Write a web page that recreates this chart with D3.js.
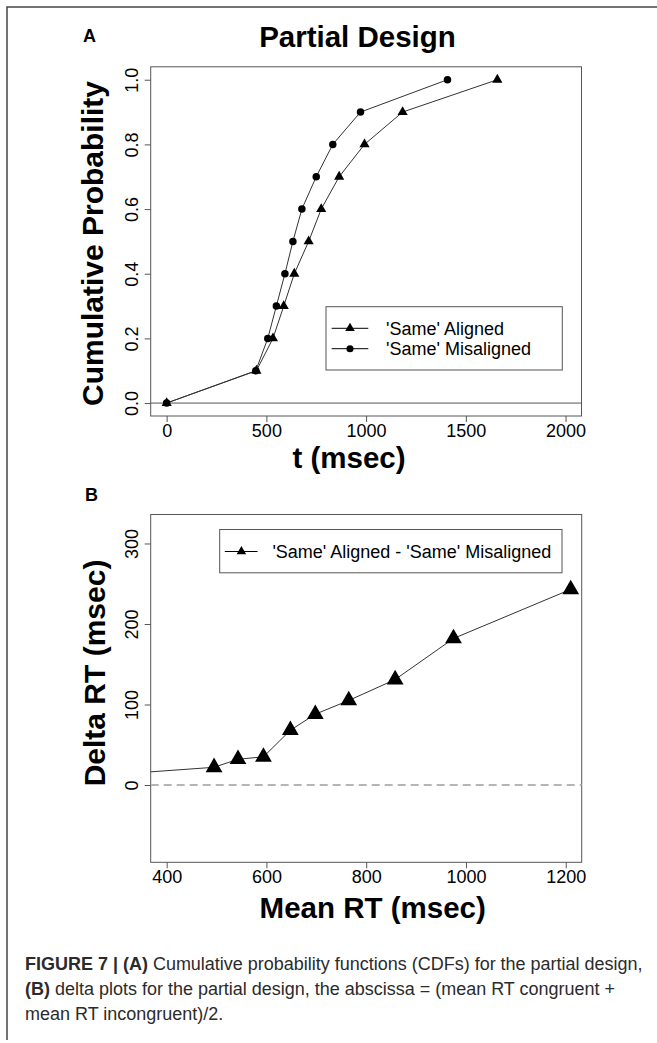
<!DOCTYPE html>
<html>
<head>
<meta charset="utf-8">
<script src="https://cdn.jsdelivr.net/npm/d3@7"></script>
<style>
  body { margin: 0; background: #fff; }
  svg { display: block; font-family: "Liberation Sans", Arial, sans-serif; }
</style>
</head>
<body>
<svg width="657" height="1043"></svg>
<script>
// ---- data ----
var cdfProb = [0, 0.1, 0.2, 0.3, 0.4, 0.5, 0.6, 0.7, 0.8, 0.9, 1.0];
var alignedRT = [0, 450, 533, 587, 640, 712, 775, 865, 992, 1183, 1658];
var misalignedRT = [0, 447, 507, 550, 593, 633, 678, 750, 833, 972, 1408];

var deltaMean = [0, 495, 543, 594, 648, 698, 765, 858, 975, 1210];
var deltaRT = [0, 22, 32, 35, 68, 88, 105, 131, 182, 243];

var aTicksX = [0, 500, 1000, 1500, 2000];
var aTicksY = [0, 0.2, 0.4, 0.6, 0.8, 1.0];
var bTicksX = [400, 600, 800, 1000, 1200];
var bTicksY = [0, 100, 200, 300];

var seriesA = [
  {name: "'Same' Aligned", shape: "triangle", values: alignedRT},
  {name: "'Same' Misaligned", shape: "circle", values: misalignedRT}
];
var seriesB = {name: "'Same' Aligned - 'Same' Misaligned", x: deltaMean, y: deltaRT};

var svg = d3.select("svg");
var boxColor = "#555", lineColor = "#333";

// outer figure frame (top and left edges visible)
svg.append("path")
   .attr("d", "M7,1040V7H657")
   .attr("fill", "none")
   .attr("stroke", "#444")
   .attr("stroke-width", 1.5);

// scales (R style: limits padded by 4%)
var aX = d3.scaleLinear().domain([-80, 2080]).range([150.7, 581.5]);
var aY = d3.scaleLinear().domain([-0.04, 1.04]).range([416, 66.8]);
var bX = d3.scaleLinear().domain([368, 1232]).range([150.7, 581.7]);
var bY = d3.scaleLinear().domain([-96, 336]).range([862.3, 514.5]);

function marker(shape, size) {
  var t = shape === "circle" ? d3.symbolCircle : d3.symbolTriangle;
  return d3.symbol().type(t).size(size)();
}

function drawAxes(x, y, tx, ty, fmtY) {
  var g = svg.append("g");
  var x0 = x.range()[0], y0 = y.range()[0];

  var ax = g.append("g")
    .attr("transform", "translate(0," + y0 + ")")
    .call(d3.axisBottom(x).tickValues(tx).tickSize(6).tickSizeOuter(0).tickFormat(d3.format("d")));
  ax.select(".domain").remove();
  ax.selectAll("line").attr("stroke", boxColor);
  ax.selectAll("text")
    .attr("y", 21).attr("dy", 0)
    .attr("fill", "#000")
    .style("font-size", "18px");

  var ay = g.append("g")
    .attr("transform", "translate(" + x0 + ",0)")
    .call(d3.axisLeft(y).tickValues(ty).tickSize(6).tickSizeOuter(0).tickFormat(fmtY));
  ay.select(".domain").remove();
  ay.selectAll("line").attr("stroke", boxColor);
  ay.selectAll("text")
    .attr("transform", "rotate(-90)")
    .attr("x", 0).attr("y", -13).attr("dy", 0)
    .attr("text-anchor", "middle")
    .attr("fill", "#000")
    .style("font-size", "18px");

  // plot box
  g.append("rect")
    .attr("x", x0).attr("y", y.range()[1])
    .attr("width", x.range()[1] - x0)
    .attr("height", y0 - y.range()[1])
    .attr("fill", "none")
    .attr("stroke", boxColor)
    .attr("stroke-width", 1);
}

// =================== Panel A ===================
svg.append("text").attr("x", 83).attr("y", 42)
   .style("font-size", "18px").style("font-weight", "bold").text("A");
svg.append("text").attr("x", 357.5).attr("y", 47).attr("text-anchor", "middle")
   .style("font-size", "29.5px").style("font-weight", "bold").text("Partial Design");

drawAxes(aX, aY, aTicksX, aTicksY, d3.format(".1f"));

// abline h = 0
svg.append("line")
   .attr("x1", aX.range()[0]).attr("x2", aX.range()[1])
   .attr("y1", aY(0)).attr("y2", aY(0))
   .attr("stroke", boxColor).attr("stroke-width", 1);

var lineA = d3.line()
  .x(function(d) { return aX(d[0]); })
  .y(function(d) { return aY(d[1]); });

seriesA.forEach(function(s) {
  var pts = s.values.map(function(v, i) { return [v, cdfProb[i]]; });
  svg.append("path")
     .attr("d", lineA(pts))
     .attr("fill", "none")
     .attr("stroke", lineColor)
     .attr("stroke-width", 1);
  svg.selectAll(null)
     .data(pts)
     .enter().append("path")
     .attr("transform", function(d) { return "translate(" + aX(d[0]) + "," + aY(d[1]) + ")"; })
     .attr("d", marker(s.shape, s.shape === "circle" ? 44 : 45))
     .attr("fill", "#000");
});

// legend A
var legA = svg.append("g");
legA.append("rect")
    .attr("x", 326).attr("y", 306.7).attr("width", 236.3).attr("height", 63.3)
    .attr("fill", "#fff").attr("stroke", boxColor);
seriesA.forEach(function(s, i) {
  var cy = 328.3 + i * 20.4;
  legA.append("line").attr("x1", 331.7).attr("x2", 368.3).attr("y1", cy).attr("y2", cy)
      .attr("stroke", "#000").attr("stroke-width", 1);
  legA.append("path").attr("transform", "translate(350," + cy + ")")
      .attr("d", marker(s.shape, 40)).attr("fill", "#000");
  legA.append("text").attr("x", 386).attr("y", cy).attr("dy", "0.35em")
      .style("font-size", "18px").text(s.name);
});

svg.append("text")
   .attr("transform", "translate(103,243.5) rotate(-90)")
   .attr("text-anchor", "middle")
   .style("font-size", "30px").style("font-weight", "bold")
   .text("Cumulative Probability");
svg.append("text").attr("x", 349).attr("y", 468).attr("text-anchor", "middle")
   .style("font-size", "29.5px").style("font-weight", "bold").text("t (msec)");

// =================== Panel B ===================
svg.append("text").attr("x", 85).attr("y", 501)
   .style("font-size", "18px").style("font-weight", "bold").text("B");

drawAxes(bX, bY, bTicksX, bTicksY, d3.format("d"));

svg.append("clipPath").attr("id", "clipB")
   .append("rect")
   .attr("x", bX.range()[0]).attr("y", bY.range()[1])
   .attr("width", bX.range()[1] - bX.range()[0])
   .attr("height", bY.range()[0] - bY.range()[1]);

var plotB = svg.append("g").attr("clip-path", "url(#clipB)");

// zero reference line
plotB.append("line")
     .attr("x1", bX.range()[0]).attr("x2", bX.range()[1])
     .attr("y1", bY(0)).attr("y2", bY(0))
     .attr("stroke", "#b5b5b5").attr("stroke-width", 2)
     .attr("stroke-dasharray", "8,5");

var ptsB = seriesB.x.map(function(v, i) { return [v, seriesB.y[i]]; });
var lineB = d3.line()
  .x(function(d) { return bX(d[0]); })
  .y(function(d) { return bY(d[1]); });

plotB.append("path")
     .attr("d", lineB(ptsB))
     .attr("fill", "none")
     .attr("stroke", lineColor)
     .attr("stroke-width", 1);

svg.selectAll(null)
   .data(ptsB.filter(function(d) { return d[0] >= bX.domain()[0]; }))
   .enter().append("path")
   .attr("transform", function(d) { return "translate(" + bX(d[0]) + "," + bY(d[1]) + ")"; })
   .attr("d", marker("triangle", 122))
   .attr("fill", "#000");

// legend B
var legB = svg.append("g");
legB.append("rect")
    .attr("x", 219.7).attr("y", 529.5).attr("width", 342.3).attr("height", 43.3)
    .attr("fill", "#fff").attr("stroke", boxColor);
legB.append("line").attr("x1", 224.8).attr("x2", 257.6).attr("y1", 551.5).attr("y2", 551.5)
    .attr("stroke", "#000").attr("stroke-width", 1);
legB.append("path").attr("transform", "translate(241.4,551.5)")
    .attr("d", marker("triangle", 40)).attr("fill", "#000");
legB.append("text").attr("x", 272.4).attr("y", 551.5).attr("dy", "0.35em")
    .style("font-size", "18px").text(seriesB.name);

svg.append("text")
   .attr("transform", "translate(105,673) rotate(-90)")
   .attr("text-anchor", "middle")
   .style("font-size", "30px").style("font-weight", "bold")
   .text("Delta RT (msec)");
svg.append("text").attr("x", 372.7).attr("y", 918).attr("text-anchor", "middle")
   .style("font-size", "29.5px").style("font-weight", "bold").text("Mean RT (msec)");

// =================== Caption ===================
var captionLines = [
  [["FIGURE 7 | ", true], ["(A)", true], [" Cumulative probability functions (CDFs) for the partial design,", false]],
  [["(B)", true], [" delta plots for the partial design, the abscissa = (mean RT congruent +", false]],
  [["mean RT incongruent)/2.", false]]
];
var capNodes = captionLines.map(function(parts) {
  var t = svg.append("text")
     .attr("x", 0).attr("y", 0)
     .attr("fill", "#2b2b2b")
     .style("font-size", "18.5px");
  parts.forEach(function(p) {
    t.append("tspan").style("font-weight", p[1] ? "bold" : "normal").text(p[0]);
  });
  return t;
});
var sx = 618 / capNodes[0].node().getComputedTextLength();
capNodes.forEach(function(t, i) {
  t.attr("transform", "translate(25," + (970 + i * 25) + ") scale(" + sx + ",1)");
});
</script>
</body>
</html>
